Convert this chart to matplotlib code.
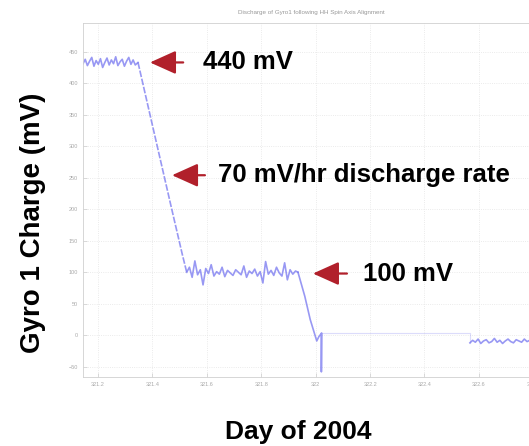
import matplotlib
matplotlib.use("Agg")
import matplotlib.pyplot as plt
from matplotlib.ticker import FormatStrFormatter

plt.rcParams['font.family'] = ['Liberation Sans', 'DejaVu Sans']

# first plateau (~440 mV)
t_hi = [321.145, 321.153, 321.161, 321.169, 321.177, 321.185, 321.193, 321.201,
        321.209, 321.217, 321.225, 321.233, 321.241, 321.249, 321.257, 321.265,
        321.273, 321.281, 321.289, 321.297, 321.305, 321.313, 321.321, 321.329,
        321.337, 321.347]
v_hi = [431, 438, 428, 435, 441, 427, 436, 430, 439, 425, 433, 440, 429, 437,
        431, 442, 428, 434, 438, 427, 435, 441, 430, 437, 429, 433]

# discharge ramp down to ~100 mV
t_ramp1 = [321.347, 321.39, 321.43, 321.47, 321.51, 321.526]
v_ramp1 = [433, 352, 277, 202, 128, 100]

# second plateau (~100 mV)
t_mid = [321.526, 321.536, 321.546, 321.556, 321.566, 321.576, 321.586, 321.596,
         321.606, 321.616, 321.626, 321.636, 321.646, 321.656, 321.666, 321.676,
         321.686, 321.696, 321.706, 321.716, 321.726, 321.736, 321.746, 321.756,
         321.766, 321.776, 321.786, 321.796, 321.806, 321.816, 321.826, 321.836,
         321.846, 321.856, 321.866, 321.876, 321.886, 321.896, 321.906, 321.916,
         321.926, 321.935]
v_mid = [100, 108, 92, 118, 96, 104, 80, 106, 98, 112, 94, 101, 97, 108, 93,
         103, 99, 95, 104, 100, 96, 110, 92, 102, 98, 105, 94, 101, 83, 117,
         97, 103, 95, 108, 99, 94, 115, 88, 104, 97, 102, 100]

# second ramp and drop-out
t_ramp2 = [321.935, 321.96, 321.98, 322.004, 322.012, 322.021, 322.021, 322.022]
v_ramp2 = [100, 62, 25, -9, -2, 3, -58, 3]

# gap
t_gap = [322.022, 322.567, 322.567]
v_gap = [3, 3, -12]

# last segment (~-10 mV)
t_lo = [322.567, 322.577, 322.587, 322.597, 322.607, 322.617, 322.627, 322.637,
        322.647, 322.657, 322.667, 322.677, 322.687, 322.697, 322.707, 322.717,
        322.727, 322.737, 322.747, 322.757, 322.767, 322.777, 322.787, 322.797,
        322.807, 322.817, 322.827]
v_lo = [-12, -8, -11, -6, -13, -9, -7, -12, -10, -5, -11, -8, -13, -9, -6,
        -10, -12, -7, -9, -11, -6, -10, -8, -12, -9, -7, -10]

xticks = [321.2, 321.4, 321.6, 321.8, 322.0, 322.2, 322.4, 322.6, 322.8]
yticks = [-50, 0, 50, 100, 150, 200, 250, 300, 350, 400, 450]

line_color = '#7676f0'
arrow_color = '#b1202b'

fig = plt.figure(figsize=(5.29, 4.46), dpi=100)
ax = fig.add_axes([0.157, 0.155, 0.864, 0.794])

ax.plot(t_hi, v_hi, color=line_color, lw=1.2, alpha=0.75)
ax.plot(t_ramp1, v_ramp1, color=line_color, lw=1.2, alpha=0.75, ls=(0, (4, 1)))
ax.plot(t_mid, v_mid, color=line_color, lw=1.2, alpha=0.75)
ax.plot(t_ramp2, v_ramp2, color=line_color, lw=1.2, alpha=0.75)
ax.plot(t_gap, v_gap, color=line_color, lw=0.8, alpha=0.25)
ax.plot(t_lo, v_lo, color=line_color, lw=1.2, alpha=0.75)

ax.set_xlim(321.145, 322.825)
ax.set_ylim(-66, 496)
ax.set_xticks(xticks)
ax.set_yticks(yticks)
ax.xaxis.set_major_formatter(FormatStrFormatter('%g'))
ax.tick_params(direction='in', labelsize=4, colors='#cccccc', labelcolor='#aaaaaa',
               length=3, width=0.5)
ax.grid(True, ls=':', color='#e4e4e4', lw=0.6)
for s in ax.spines.values():
    s.set_color('#d0d0d0')
    s.set_linewidth(0.6)

ax.set_title('Discharge of Gyro1 following HH Spin Axis Alignment',
             fontsize=4.5, color='#999999', pad=6)

# annotations
notes = [
    ('440 mV', 321.391, 433, 321.513, 321.586),
    ('70 mV/hr discharge rate', 321.472, 254, 321.593, 321.641),
    ('100 mV', 321.990, 98, 322.115, 322.174),
]
for label, tip_x, y, tail_x, text_x in notes:
    ax.annotate('', xy=(tip_x, y), xytext=(tail_x, y),
                arrowprops=dict(arrowstyle='-|>,head_length=1.0,head_width=0.45',
                                color=arrow_color, lw=1.6, mutation_scale=16,
                                shrinkA=0, shrinkB=0))
    ax.text(text_x, y, label, fontsize=18.5, fontweight='bold', va='center',
            ha='left', color='black', clip_on=False)

fig.text(0.063, 0.50, 'Gyro 1 Charge (mV)', rotation=90, fontsize=20,
         fontweight='bold', ha='center', va='center')
fig.text(0.563, 0.031, 'Day of 2004', fontsize=19, fontweight='bold',
         ha='center', va='center')

fig.savefig('out.png', dpi=100)
